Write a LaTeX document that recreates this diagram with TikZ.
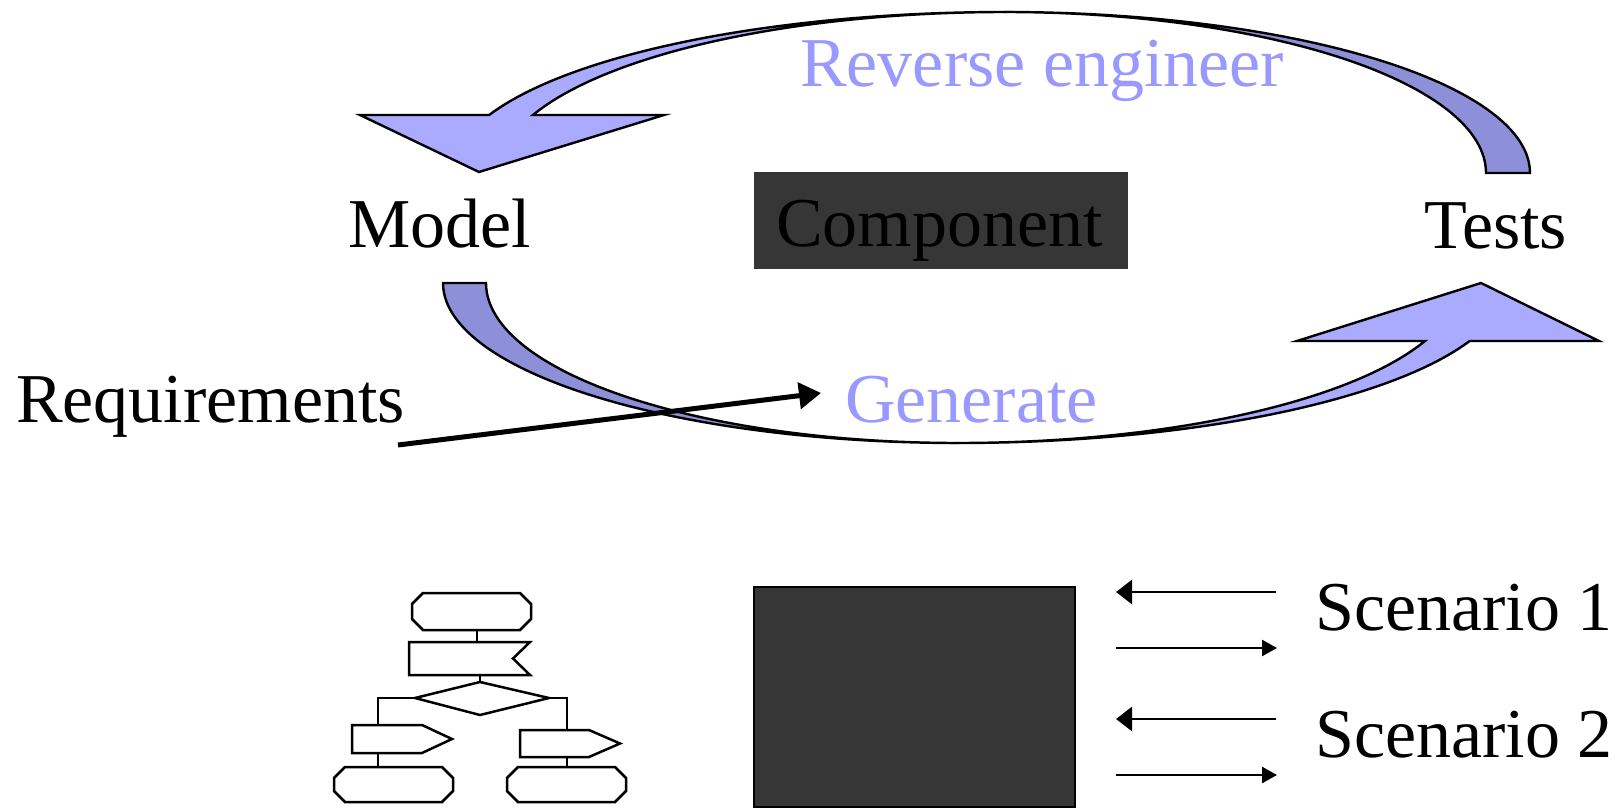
\documentclass[tikz,border=0pt]{standalone}
\usepackage{fontspec}
\setmainfont{Liberation Serif}
\usetikzlibrary{arrows.meta}

\definecolor{bandLight}{RGB}{170,170,255}
\definecolor{bandDark}{RGB}{141,143,216}
\definecolor{labelBlue}{RGB}{153,153,255}
\definecolor{boxGray}{RGB}{54,54,54}

\tikzset{
  band/.style={draw=black, line width=2.4pt, line join=miter},
  bigtext/.style={inner sep=0pt, anchor=base west, font=\fontsize{70}{84}\selectfont},
  fcshape/.style={draw=black, line width=2.5pt, fill=white},
  fcline/.style={draw=black, line width=2.5pt},
  msgin/.style={draw=black, line width=2.6pt, -{Triangle[length=16pt,width=24pt]}},
  msgout/.style={draw=black, line width=2.6pt, -{Triangle[length=15pt,width=16pt]}},
}

\begin{document}
\begin{tikzpicture}[x=1pt, y=-1pt]
\useasboundingbox (0,0) rectangle (1615,808);

% ---- upper curved arrow (tests back to model) ----
\path[band, fill=bandLight]
  plot[domain=90:158.88, samples=80] ({1005+553*cos(\x)},{173-161*sin(\x)})
  -- (360,115) -- (479,172) -- (664,115)
  -- plot[domain=158.88:90, samples=80] ({1005+506*cos(\x)},{173-161*sin(\x)})
  -- cycle;
\path[band, fill=bandDark]
  plot[domain=0:90, samples=80] ({1005+525*cos(\x)},{173-161*sin(\x)})
  -- plot[domain=90:0, samples=80] ({1005+481*cos(\x)},{173-161*sin(\x)})
  -- cycle;

% ---- lower curved arrow (model to tests) ----
\path[band, fill=bandDark]
  plot[domain=180:270, samples=80] ({958+515*cos(\x)},{283-160*sin(\x)})
  -- plot[domain=270:180, samples=80] ({958+472*cos(\x)},{283-160*sin(\x)})
  -- cycle;
\path[band, fill=bandLight]
  plot[domain=270:338.75, samples=80] ({958+549*cos(\x)},{283-160*sin(\x)})
  -- (1599,341) -- (1481,283) -- (1297,341)
  -- plot[domain=338.75:270, samples=80] ({958+501*cos(\x)},{283-160*sin(\x)})
  -- cycle;

% ---- labels of the cycle ----
\node[bigtext, text=labelBlue] (rev) at (800,86) {Reverse engineer};
\node[bigtext] (model) at (348,247) {Model};
\fill[boxGray] (754,172) rectangle (1128,269);
\node[bigtext] (comp) at (776,246) {Component};
\node[bigtext] (tests) at (1424,248) {Tests};
\node[bigtext] (req) at (16,422) {Requirements};
\node[bigtext, text=labelBlue] (gen) at (845,422) {Generate};

% requirements feed into generation
\coordinate (reqA) at (398,445);
\coordinate (reqB) at (821,393);
\draw[line width=5pt, -{Triangle[length=22pt,width=26pt]}] (reqA) -- (reqB);

% ---- flowchart of the model ----
\path[fcshape] (423,593) -- (520,593) -- (531,604) -- (531,619) -- (520,630)
  -- (423,630) -- (412,619) -- (412,604) -- cycle;
\path[fcshape] (409,642) -- (530,642) -- (513,658.5) -- (530,675) -- (409,675) -- cycle;
\path[fcshape] (480,682) -- (549,698) -- (480,715) -- (415,698) -- cycle;
\path[fcshape] (352,725) -- (422,725) -- (452,739) -- (422,753) -- (352,753) -- cycle;
\path[fcshape] (520,730) -- (589,730) -- (620,743.5) -- (589,757) -- (520,757) -- cycle;
\path[fcshape] (345,767) -- (442,767) -- (453,778) -- (453,791) -- (442,802)
  -- (345,802) -- (334,791) -- (334,778) -- cycle;
\path[fcshape] (518,767) -- (615,767) -- (626,778) -- (626,791) -- (615,802)
  -- (518,802) -- (507,791) -- (507,778) -- cycle;

\coordinate (f1b) at (477,630);  \coordinate (f2t) at (477,642);
\coordinate (f2b) at (480,675);  \coordinate (f3t) at (480,682);
\coordinate (f3l) at (415,698);  \coordinate (f4t) at (378,725);
\coordinate (f3r) at (549,698);  \coordinate (f5t) at (567,730);
\coordinate (f4b) at (378,753);  \coordinate (f6t) at (378,767);
\coordinate (f5b) at (567,757);  \coordinate (f7t) at (567,767);
\draw[fcline] (f1b) -- (f2t);
\draw[fcline] (f2b) -- (f3t);
\draw[fcline] (f3l) -| (f4t);
\draw[fcline] (f3r) -| (f5t);
\draw[fcline] (f4b) -- (f6t);
\draw[fcline] (f5b) -- (f7t);

% ---- black box component with test scenarios ----
\draw[line width=1.6pt, fill=boxGray] (754,587) rectangle (1075,807);

\coordinate (s1a) at (1276,592); \coordinate (s1b) at (1116,592);
\coordinate (s1c) at (1116,648); \coordinate (s1d) at (1277,648);
\coordinate (s2a) at (1276,719); \coordinate (s2b) at (1116,719);
\coordinate (s2c) at (1116,775); \coordinate (s2d) at (1277,775);
\draw[msgin] (s1a) -- (s1b);
\draw[msgout] (s1c) -- (s1d);
\draw[msgin] (s2a) -- (s2b);
\draw[msgout] (s2c) -- (s2d);

\node[bigtext] (sc1) at (1315,630) {Scenario 1};
\node[bigtext] (sc2) at (1315,757) {Scenario 2};
\end{tikzpicture}
\end{document}
